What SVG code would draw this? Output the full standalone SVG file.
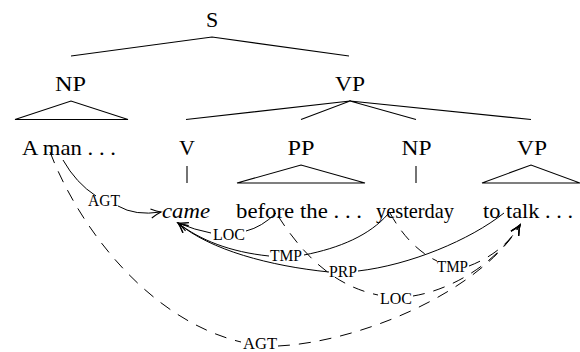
<svg xmlns="http://www.w3.org/2000/svg" width="580" height="352" viewBox="0 0 580 352">
<style>
.t{font-size:22px}
.w{font-size:22px}
.it{font-style:italic}
.lb{font-size:16px}
.tree{fill:none;stroke:#000;stroke-width:1.1}
.arc{fill:none;stroke:#000;stroke-width:1}
.dash{stroke-dasharray:12 9}
.arr{marker-end:url(#ah)}
</style>
<defs>
<marker id="ah" viewBox="-11 -6 13 12" refX="0" refY="0" markerWidth="13" markerHeight="12" markerUnits="userSpaceOnUse" orient="auto">
<path d="M -10,-4.5 Q -4,-1.2 0,0 Q -4,1.2 -10,4.5" fill="none" stroke="#000" stroke-width="1.1"/>
</marker>
</defs>
<g id="tree-lines">
<path class="tree" d="M 71,56 L 212,37 L 349,56"/>
<path class="tree" d="M 15,119.5 L 71,101 L 128,119.5 Z"/>
<path class="tree" d="M 186,119.5 L 350,101 L 531,119.5 M 301,119.5 L 350,101 L 416,119.5"/>
<path class="tree" d="M 187,166 L 187,183"/>
<path class="tree" d="M 237,183 L 301,165 L 365,183 Z"/>
<path class="tree" d="M 416,166 L 416,183"/>
<path class="tree" d="M 482,183 L 531,165 L 580,183 Z"/>
</g>
<g font-family="Liberation Serif, Times New Roman, serif" fill="#000">
<g id="S"><text class="t" x="212" y="27" text-anchor="middle">S</text></g>
<g id="NP1"><text class="t" x="70.5" y="91" text-anchor="middle" textLength="31" lengthAdjust="spacingAndGlyphs">NP</text></g>
<g id="VP1"><text class="t" x="350" y="91" text-anchor="middle" textLength="30" lengthAdjust="spacingAndGlyphs">VP</text></g>
<g id="aman"><text class="t" x="22" y="155" textLength="94" lengthAdjust="spacingAndGlyphs">A man . . .</text></g>
<g id="V"><text class="t" x="187" y="155" text-anchor="middle">V</text></g>
<g id="PP"><text class="t" x="301" y="155" text-anchor="middle" textLength="27" lengthAdjust="spacingAndGlyphs">PP</text></g>
<g id="NP2"><text class="t" x="416.5" y="155" text-anchor="middle" textLength="30" lengthAdjust="spacingAndGlyphs">NP</text></g>
<g id="VP2"><text class="t" x="532" y="155" text-anchor="middle" textLength="30" lengthAdjust="spacingAndGlyphs">VP</text></g>
<g id="came"><text class="w it" x="162" y="218" textLength="48" lengthAdjust="spacingAndGlyphs">came</text></g>
<g id="before"><text class="w" x="236" y="218" textLength="126" lengthAdjust="spacingAndGlyphs">before the . . .</text></g>
<g id="yesterday"><text class="w" x="376" y="218" textLength="78" lengthAdjust="spacingAndGlyphs">yesterday</text></g>
<g id="totalk"><text class="w" x="483" y="218" textLength="90" lengthAdjust="spacingAndGlyphs">to talk . . .</text></g>
</g>
<g id="connectors">
<path class="arc" d="M 63,160 Q 76,183 96,196"/>
<path class="arc arr" d="M 118,206 Q 135,216 161,212"/>
<path class="arc" d="M 276,213 Q 262,227 246,231"/>
<path class="arc arr" d="M 211,233 Q 195,230 178,223"/>
<path class="arc" d="M 388,214 C 370,235 340,248 304,255"/>
<path class="arc arr" d="M 269,256 C 230,252 200,240 178,223"/>
<path class="arc" d="M 504,213 C 470,240 410,265 358,271"/>
<path class="arc arr" d="M 329,272 C 270,266 210,250 178,223"/>
<path class="arc dash" d="M 50,152 C 80,230 150,320 241,342"/>
<path class="arc dash arr" d="M 278,346 C 360,342 480,292 520,225"/>
<path class="arc dash" d="M 278,216 C 300,250 330,285 378,295"/>
<path class="arc dash arr" d="M 413,296 C 450,290 495,265 520,225"/>
<path class="arc dash" d="M 390,213 C 402,235 418,252 437,261"/>
<path class="arc dash arr" d="M 469,266 C 490,258 508,245 520,225"/>
</g>
<g id="labels" font-family="Liberation Serif, Times New Roman, serif" fill="#000">
<text class="lb" x="88" y="206" textLength="32" lengthAdjust="spacingAndGlyphs">AGT</text>
<text class="lb" x="213" y="240" textLength="32" lengthAdjust="spacingAndGlyphs">LOC</text>
<text class="lb" x="270" y="261" textLength="32" lengthAdjust="spacingAndGlyphs">TMP</text>
<text class="lb" x="329" y="277" textLength="28" lengthAdjust="spacingAndGlyphs">PRP</text>
<text class="lb" x="243" y="349" textLength="34" lengthAdjust="spacingAndGlyphs">AGT</text>
<text class="lb" x="380" y="304" textLength="32" lengthAdjust="spacingAndGlyphs">LOC</text>
<text class="lb" x="437" y="272" textLength="31" lengthAdjust="spacingAndGlyphs">TMP</text>
</g>
</svg>
